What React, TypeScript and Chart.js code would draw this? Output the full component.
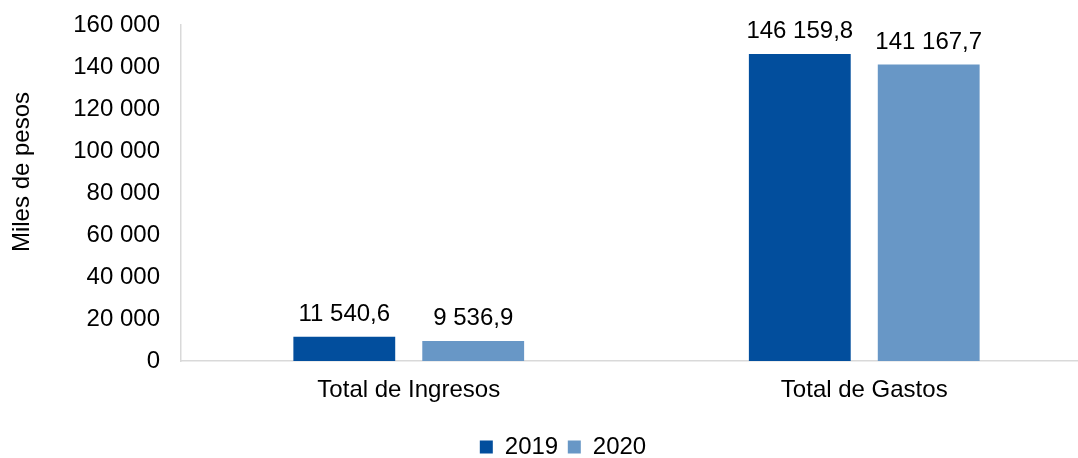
import React, { useEffect, useRef } from 'react';
import { Chart, registerables } from 'chart.js';

Chart.register(...registerables);

const categories = ['Total de Ingresos', 'Total de Gastos'];
const seriesNames = ['2019', '2020'];
const values2019 = [11540.6, 146159.8];
const values2020 = [9536.9, 141167.7];
const yMin = 0;
const yMax = 160000;
const yStep = 20000;
const yTitle = 'Miles de pesos';

const colors = ['#024E9D', '#6897C6'];
const FONT = "'Liberation Sans', Arial, sans-serif";
const FS = 24;

function fmt(n: number, decimals: number): string {
  const fixed = n.toFixed(decimals);
  const [intPart, dec] = fixed.split('.');
  const intS = intPart.replace(/\B(?=(\d{3})+(?!\d))/g, ' ');
  return dec ? intS + ',' + dec : intS;
}

const dataLabels = {
  id: 'dataLabels',
  afterDatasetsDraw(chart: any) {
    const ctx = chart.ctx;
    ctx.save();
    ctx.font = `${FS}px ${FONT}`;
    ctx.fillStyle = '#000';
    ctx.textAlign = 'center';
    ctx.textBaseline = 'alphabetic';
    chart.data.datasets.forEach((ds: any, i: number) => {
      const meta = chart.getDatasetMeta(i);
      meta.data.forEach((el: any, j: number) => {
        ctx.fillText(fmt(ds.data[j], 1), el.x, el.y - 16);
      });
    });
    // y-axis title
    ctx.translate(22, 172);
    ctx.rotate(-Math.PI / 2);
    ctx.textBaseline = 'middle';
    ctx.fillText(yTitle, 0, 0);
    ctx.restore();
  },
};

const legendShift = {
  id: 'legendShift',
  afterLayout(chart: any) {
    const lg = chart.legend;
    if (lg) {
      lg.left += 17;
      lg.right += 17;
    }
  },
};

export default function App() {
  const ref = useRef<HTMLCanvasElement | null>(null);
  useEffect(() => {
    if (!ref.current) return;
    const chart = new Chart(ref.current, {
      type: 'bar',
      data: {
        labels: categories,
        datasets: [
          { label: seriesNames[0], data: values2019, backgroundColor: colors[0], borderWidth: 0 },
          { label: seriesNames[1], data: values2020, backgroundColor: colors[1], borderWidth: 0 },
        ],
      },
      options: {
        responsive: false,
        animation: false,
        devicePixelRatio: 1,
        layout: { padding: { top: 25, left: 0, right: 0, bottom: 0 } },
        datasets: { bar: { categoryPercentage: 0.566, barPercentage: 0.79 } },
        plugins: {
          tooltip: { enabled: false },
          legend: {
            position: 'bottom',
            labels: {
              font: { family: FONT, size: FS },
              color: '#000',
              boxWidth: 13,
              boxHeight: 13,
              padding: 9.6,
            },
          },
        },
        scales: {
          x: {
            grid: { display: false, drawTicks: false },
            border: { display: true, color: '#d9d9d9', width: 1.5 },
            ticks: { font: { family: FONT, size: FS }, color: '#000', padding: 14.6 },
            afterFit: (s: any) => { s.height = 64.4; },
          },
          y: {
            min: yMin,
            max: yMax,
            grid: { display: false, drawTicks: false },
            border: { display: true, color: '#d9d9d9', width: 1.5 },
            ticks: {
              stepSize: yStep,
              font: { family: FONT, size: FS },
              color: '#000',
              padding: 21,
              callback: (v: any) => fmt(Number(v), 0),
            },
            title: { display: false },
            afterFit: (s: any) => {
              s.width = 181;
              s.paddingTop = 0;
              s.paddingBottom = 0;
            },
          },
        },
      },
      plugins: [dataLabels, legendShift],
    });
    return () => chart.destroy();
  }, []);
  return (
    <div style={{ position: 'fixed', left: 0, top: 0, width: 1078, height: 458, overflow: 'hidden', background: '#fff' }}>
      <canvas ref={ref} width={1092} height={469} style={{ display: 'block' }} />
    </div>
  );
}
